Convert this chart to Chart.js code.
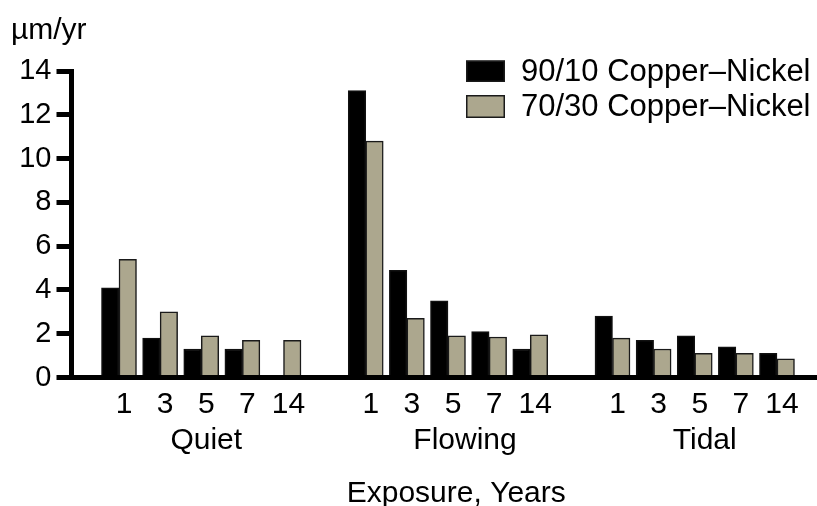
<!DOCTYPE html>
<html>
<head>
<meta charset="utf-8">
<title>Corrosion rates of copper-nickel alloys</title>
<script src="https://cdn.jsdelivr.net/npm/chart.js@4/dist/chart.umd.min.js"></script>
<style>
  html, body { margin: 0; padding: 0; background: #fff; }
  #wrap { width: 817px; height: 506px; }
</style>
</head>
<body>
<div id="wrap"><canvas id="chart" width="817" height="506"></canvas></div>
<script>
// Exposure environments and the exposure times measured in each
const environments = ['Quiet', 'Flowing', 'Tidal'];
const exposureYears = ['1', '3', '5', '7', '14'];

// Corrosion rate, µm/yr, in environment order, years within each
const cuNi9010 = [4.1, 1.8, 1.3, 1.3, null,  13.1, 4.9, 3.5, 2.1, 1.3,  2.8, 1.7, 1.9, 1.4, 1.1];
const cuNi7030 = [5.4, 3.0, 1.9, 1.7, 1.7,   10.8, 2.7, 1.9, 1.85, 1.95, 1.8, 1.3, 1.1, 1.1, 0.85];

const seriesNames = ['90/10 Copper–Nickel', '70/30 Copper–Nickel'];
const yTickValues = [0, 2, 4, 6, 8, 10, 12, 14];
const unitLabel = 'µm/yr';
const axisTitle = 'Exposure, Years';

// ---- layout ----
const FONT = '"Liberation Sans", Arial, Helvetica, sans-serif';
const SLOTS_PER_GROUP = exposureYears.length + 1;   // one empty slot between environments
const slotOf = k => Math.floor(k / exposureYears.length) * SLOTS_PER_GROUP + (k % exposureYears.length);
const toPoints = values => values.map((v, k) => ({ x: slotOf(k), y: v }));
const tickSlots = exposureYears.length * environments.length;
const groupLabelShift = [5, 17, 10];

const extraText = {
  id: 'extraText',
  afterDraw(chart) {
    const { ctx, scales: { x }, chartArea } = chart;
    ctx.save();
    ctx.fillStyle = '#000';
    ctx.font = '30px ' + FONT;
    ctx.textAlign = 'center';
    ctx.textBaseline = 'middle';
    // environment names under their exposure ticks
    environments.forEach((name, g) => {
      const mid = g * SLOTS_PER_GROUP + Math.floor(exposureYears.length / 2);
      ctx.fillText(name, x.getPixelForValue(mid) + groupLabelShift[g], 441);
    });
    // axis title
    ctx.fillText(axisTitle, (chartArea.left + chartArea.right) / 2 + 12, 494);
    // unit above the value axis
    ctx.textAlign = 'left';
    ctx.font = '30px ' + FONT;
    ctx.fillText(unitLabel, 11, 31);

    // legend in the upper right
    ctx.font = '31px ' + FONT;
    const rows = [{ y: 60.5, h: 21.5 }, { y: 95, h: 23 }];
    chart.data.datasets.forEach((ds, i) => {
      const r = rows[i];
      ctx.fillStyle = ds.backgroundColor;
      ctx.fillRect(466, r.y, 39, r.h);
      ctx.lineWidth = 1.5;
      ctx.strokeStyle = '#1a1a1a';
      ctx.strokeRect(466.75, r.y + 0.75, 37.5, r.h - 1.5);
      ctx.fillStyle = '#000';
      ctx.fillText(ds.label, 521, r.y + r.h / 2 + 1);
    });
    ctx.restore();
  }
};

new Chart(document.getElementById('chart'), {
  type: 'bar',
  data: {
    datasets: [
      {
        label: seriesNames[0],
        data: toPoints(cuNi9010),
        backgroundColor: '#000000',
        borderColor: '#111111',
        borderWidth: 1.5,
        barThickness: 17.5
      },
      {
        label: seriesNames[1],
        data: toPoints(cuNi7030),
        backgroundColor: '#aca78e',
        borderColor: '#1a1a1a',
        borderWidth: 1.5,
        barThickness: 17.5
      }
    ]
  },
  options: {
    responsive: false,
    devicePixelRatio: 1,
    animation: false,
    layout: { padding: { top: 71, right: 0, bottom: 0, left: 0 } },
    plugins: {
      legend: { display: false },
      tooltip: { enabled: false }
    },
    scales: {
      x: {
        type: 'linear',
        min: -1.155,
        max: 16.973,
        offset: false,
        afterBuildTicks(scale) {
          scale.ticks = Array.from({ length: tickSlots }, (_, k) => ({ value: slotOf(k) }));
        },
        afterFit(scale) { scale.height = 128.5; },
        grid: { display: false, drawTicks: false },
        border: { display: true, color: '#000', width: 5 },
        ticks: {
          autoSkip: false,
          maxRotation: 0,
          padding: 9,
          labelOffset: 5,
          color: '#000',
          font: { family: FONT, size: 30 },
          callback: (value, index) => exposureYears[index % exposureYears.length]
        }
      },
      y: {
        min: 0,
        max: 14,
        afterBuildTicks(scale) {
          scale.ticks = yTickValues.map(v => ({ value: v }));
        },
        afterFit(scale) { scale.width = 71.5; },
        grid: {
          drawOnChartArea: false,
          drawTicks: true,
          tickLength: 15,
          tickWidth: 5,
          tickColor: '#000',
          color: '#000',
          lineWidth: 5
        },
        border: { display: true, color: '#000', width: 5 },
        ticks: {
          padding: 5,
          color: '#000',
          font: { family: FONT, size: 29 }
        }
      }
    }
  },
  plugins: [extraText]
});
</script>
</body>
</html>
